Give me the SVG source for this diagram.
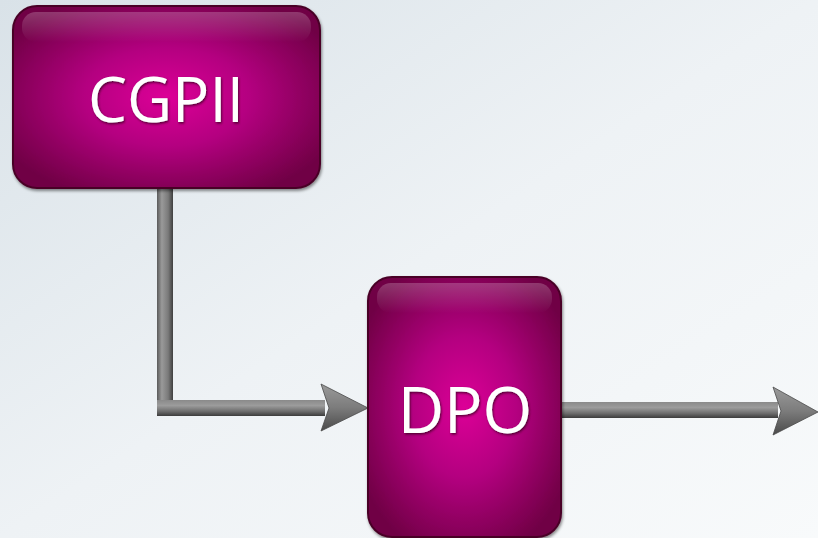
<svg xmlns="http://www.w3.org/2000/svg" width="818" height="538" viewBox="0 0 818 538">
<defs>
<linearGradient id="bg" x1="0" y1="0" x2="1" y2="1">
<stop offset="0" stop-color="#d9e2e8"/>
<stop offset="0.5" stop-color="#eef2f5"/>
<stop offset="1" stop-color="#f8fafb"/>
</linearGradient>
<radialGradient id="box" cx="0.5" cy="0.5" r="0.6">
<stop offset="0" stop-color="#dc0097"/>
<stop offset="0.45" stop-color="#b40080"/>
<stop offset="1" stop-color="#700045"/>
</radialGradient>
<linearGradient id="hl" x1="0" y1="0" x2="0" y2="1">
<stop offset="0" stop-color="#ffffff" stop-opacity="0.22"/>
<stop offset="1" stop-color="#ffffff" stop-opacity="0"/>
</linearGradient>
<linearGradient id="barV" x1="0" y1="0" x2="1" y2="0">
<stop offset="0" stop-color="#5a5a5a"/>
<stop offset="0.3" stop-color="#9a9a9a"/>
<stop offset="0.7" stop-color="#7a7a7a"/>
<stop offset="1" stop-color="#3f3f3f"/>
</linearGradient>
<linearGradient id="barH" x1="0" y1="0" x2="0" y2="1">
<stop offset="0" stop-color="#8a8a8a"/>
<stop offset="0.35" stop-color="#9c9c9c"/>
<stop offset="0.7" stop-color="#6e6e6e"/>
<stop offset="1" stop-color="#3c3c3c"/>
</linearGradient>
<linearGradient id="head" x1="0" y1="0" x2="0" y2="1">
<stop offset="0" stop-color="#9a9a9a"/>
<stop offset="0.5" stop-color="#7c7c7c"/>
<stop offset="1" stop-color="#4a4a4a"/>
</linearGradient>
<filter id="sh" x="-10%" y="-10%" width="120%" height="120%">
<feDropShadow dx="1" dy="2" stdDeviation="1.5" flood-color="#000" flood-opacity="0.45"/>
</filter>
<filter id="tsh" x="-10%" y="-10%" width="120%" height="130%">
<feDropShadow dx="1" dy="1.5" stdDeviation="1" flood-color="#3a0020" flood-opacity="0.8"/>
</filter>
</defs>
<style>
.box{fill:url(#box);stroke:#4a0028;stroke-width:2;filter:url(#sh)}
.hl{fill:url(#hl)}
.lbl{fill:#ffffff;font-family:"Open Sans","Noto Sans",sans-serif;text-anchor:middle;filter:url(#tsh)}
</style>
<rect width="818" height="538" fill="url(#bg)"/>
<g id="connectors">
<rect x="157" y="188" width="16" height="228" fill="url(#barV)"/>
<rect x="157" y="400" width="168" height="16" fill="url(#barH)"/>
<polygon points="321,384 368,408 321,431 329,408" fill="url(#head)" stroke="#4a4a4a" stroke-width="0.8"/>
<rect x="560" y="402" width="218" height="16" fill="url(#barH)"/>
<polygon points="773,387 818,412 773,435 781,411" fill="url(#head)" stroke="#4a4a4a" stroke-width="0.8"/>
</g>
<g id="cgpii">
<rect class="box" x="13" y="6" width="307" height="182" rx="24"/>
<rect class="hl" x="22" y="12" width="289" height="30" rx="14"/>
<text class="lbl" x="166" y="122" font-size="62">CGPII</text>
</g>
<g id="dpo">
<rect class="box" x="368" y="277" width="193" height="260" rx="24"/>
<rect class="hl" x="377" y="283" width="175" height="30" rx="14"/>
<text class="lbl" x="465" y="433" font-size="64">DPO</text>
</g>
</svg>
